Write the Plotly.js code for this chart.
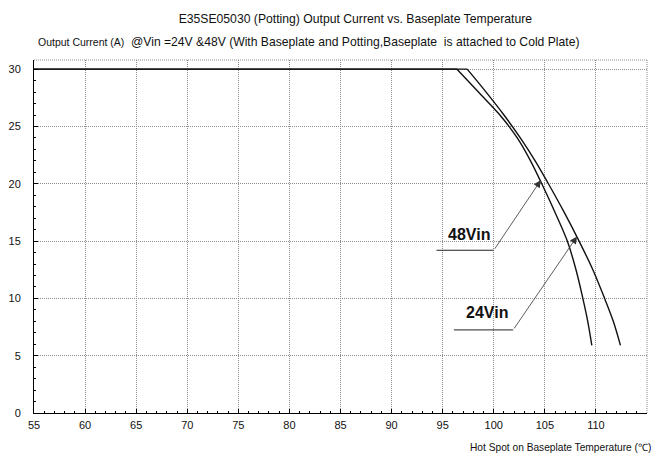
<!DOCTYPE html>
<html>
<head>
<meta charset="utf-8">
<script src="https://cdn.plot.ly/plotly-3.0.1.min.js"></script>
<style>
html,body{margin:0;padding:0;background:#fff;}
#chart{width:652px;height:453px;}
</style>
</head>
<body>
<div id="chart"></div>
<script>
// Series data (flat part, then derating curve)
const temp48 = [55, 96.4, 98.5, 100.6, 102.3, 103.6, 104.7, 106.0, 107.2, 108.05, 108.72, 109.2, 109.6];
const curr48 = [30, 30, 28, 26, 24, 22, 20, 17.5, 15, 12.5, 10, 8, 5.9];
const temp24 = [55, 97.4, 99.25, 101.0, 102.6, 104.05, 105.35, 106.9, 108.35, 109.7, 110.85, 111.7, 112.4];
const curr24 = [30, 30, 28, 26, 24, 22, 20, 17.5, 15, 12.5, 10, 8, 5.9];

const xTicks = [55, 60, 65, 70, 75, 80, 85, 90, 95, 100, 105, 110, 115];
const yTicks = [0, 5, 10, 15, 20, 25, 30];

const titleText = 'E35SE05030 (Potting) Output Current vs. Baseplate Temperature';
const yTitleText = 'Output Current (A)';
const subTitleText = '@Vin =24V &48V (With Baseplate and Potting,Baseplate\u00a0 is attached to Cold Plate)';
const xTitleText = 'Hot Spot on Baseplate Temperature (℃)';
const label48 = '48Vin';
const label24 = '24Vin';

const lineStyle = {color: '#111', width: 1.4};

const traces = [
  {x: temp48.slice(0, 2), y: curr48.slice(0, 2), mode: 'lines', line: lineStyle, hoverinfo: 'skip'},
  {x: temp48.slice(1), y: curr48.slice(1), mode: 'lines', line: Object.assign({shape: 'spline', smoothing: 1}, lineStyle), name: label48},
  {x: temp24.slice(0, 2), y: curr24.slice(0, 2), mode: 'lines', line: lineStyle, hoverinfo: 'skip'},
  {x: temp24.slice(1), y: curr24.slice(1), mode: 'lines', line: Object.assign({shape: 'spline', smoothing: 1}, lineStyle), name: label24}
];

const font = {family: 'Liberation Sans, Arial, sans-serif', color: '#111'};
const gridStyle = {showgrid: true, gridcolor: '#8c8c8c', griddash: '1px,1px', gridwidth: 1};

const layout = {
  width: 652, height: 453,
  margin: {l: 34, r: 5, t: 60, b: 40},
  paper_bgcolor: '#fff', plot_bgcolor: '#fff',
  showlegend: false,
  font: Object.assign({size: 11}, font),
  title: {text: titleText, font: Object.assign({size: 12.2}, font), x: 0.545, xanchor: 'center', y: 0.958, yanchor: 'middle'},
  xaxis: Object.assign({
    range: [55, 115], tickvals: xTicks, ticktext: xTicks.map(String),
    showline: true, linecolor: '#000', linewidth: 1,
    ticks: 'inside', ticklen: 4, tickcolor: '#000', tickwidth: 1,
    minor: {dtick: 1, ticks: 'inside', ticklen: 2, tickcolor: '#000', showgrid: false},
    zeroline: false, tickfont: Object.assign({size: 11}, font), ticklabelstandoff: 2
  }, gridStyle),
  yaxis: Object.assign({
    range: [0, 30.8], tickvals: yTicks, ticktext: yTicks.map(String),
    showline: true, linecolor: '#000', linewidth: 1,
    ticks: 'inside', ticklen: 4, tickcolor: '#000', tickwidth: 1,
    minor: {dtick: 1, ticks: 'inside', ticklen: 2, tickcolor: '#000', showgrid: false},
    zeroline: false, tickfont: Object.assign({size: 11}, font), ticklabelstandoff: 10
  }, gridStyle),
  shapes: [
    {type: 'line', xref: 'paper', yref: 'paper', x0: 0, x1: 1, y0: 1, y1: 1, line: {color: '#8c8c8c', width: 1, dash: '1px,1px'}},
    {type: 'line', xref: 'paper', yref: 'paper', x0: 1, x1: 1, y0: 0, y1: 1, line: {color: '#8c8c8c', width: 1, dash: '1px,1px'}},
    {type: 'line', xref: 'x', yref: 'y', x0: 94.4, x1: 100.0, y0: 14.2, y1: 14.2, line: {color: '#222', width: 1}},
    {type: 'line', xref: 'x', yref: 'y', x0: 96.1, x1: 101.9, y0: 7.25, y1: 7.25, line: {color: '#222', width: 1}}
  ],
  annotations: [
    {xref: 'paper', yref: 'paper', x: 0.004, y: 1.05, xanchor: 'left', yanchor: 'middle', text: yTitleText, showarrow: false, font: Object.assign({size: 10.5}, font)},
    {xref: 'paper', yref: 'paper', x: 0.524, y: 1.05, xanchor: 'center', yanchor: 'middle', text: subTitleText, showarrow: false, font: Object.assign({size: 12.15}, font)},
    {xref: 'paper', yref: 'paper', x: 1.009, y: -0.097, xanchor: 'right', yanchor: 'middle', text: xTitleText, showarrow: false, font: Object.assign({size: 10.2}, font)},
    {xref: 'x', yref: 'y', x: 97.53, y: 15.6, text: '<b>' + label48 + '</b>', showarrow: false, font: Object.assign({size: 16}, font)},
    {xref: 'x', yref: 'y', x: 99.37, y: 8.78, text: '<b>' + label24 + '</b>', showarrow: false, font: Object.assign({size: 16}, font)},
    {xref: 'x', yref: 'y', axref: 'x', ayref: 'y', x: 104.6, y: 20.3, ax: 100.0, ay: 14.2, text: '', showarrow: true, arrowhead: 2, arrowsize: 1.8, arrowwidth: 0.8, arrowcolor: '#333', standoff: 0, startstandoff: 0},
    {xref: 'x', yref: 'y', axref: 'x', ayref: 'y', x: 108.15, y: 15.4, ax: 101.9, ay: 7.25, text: '', showarrow: true, arrowhead: 2, arrowsize: 1.8, arrowwidth: 0.8, arrowcolor: '#333', standoff: 0, startstandoff: 0}
  ]
};

Plotly.newPlot('chart', traces, layout, {displayModeBar: false, staticPlot: true});
</script>
</body>
</html>
